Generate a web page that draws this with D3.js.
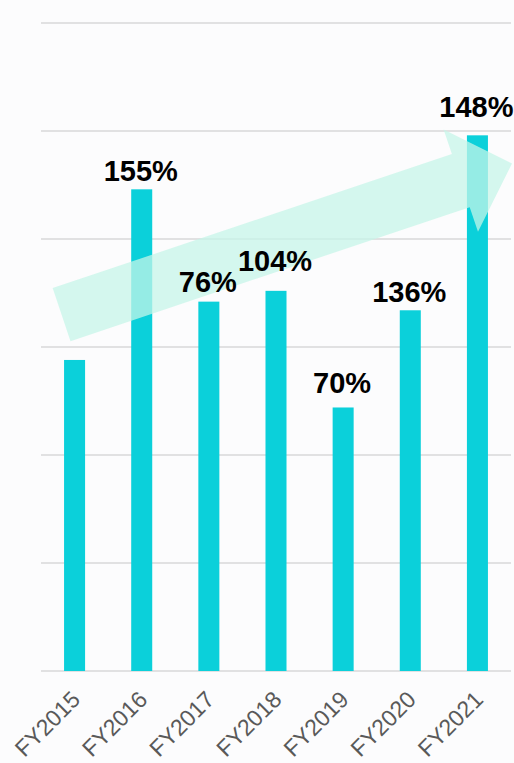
<!DOCTYPE html>
<html>
<head>
<meta charset="utf-8">
<script src="https://cdn.jsdelivr.net/npm/d3@7"></script>
<style>
  html, body { margin: 0; padding: 0; background: #fcfcfd; }
  svg { display: block; }
</style>
</head>
<body>
<div id="chart"></div>
<script>
// ---- data ----
const categories = ["FY2015", "FY2016", "FY2017", "FY2018", "FY2019", "FY2020", "FY2021"];
const values = [144, 223, 171, 176, 122, 167, 248];
const growthLabels = [null, "155%", "76%", "104%", "70%", "136%", "148%"];
const yTicks = [0, 50, 100, 150, 200, 250, 300];

// ---- layout (not data) ----
const labelGap = [0, 8, 10, 20, 14, 8, 18];
const W = 514, H = 763;
const margin = { left: 41, right: 3, top: 23, bottom: 92 };

const svg = d3.select("#chart").append("svg").attr("width", W).attr("height", H);
svg.append("rect").attr("width", W).attr("height", H).attr("fill", "#fcfcfd");

const x = d3.scaleBand().domain(categories)
  .range([margin.left, W - margin.right])
  .paddingInner(0.687).paddingOuter(0.3435);
const y = d3.scaleLinear().domain([0, 300]).range([H - margin.bottom, margin.top]);

// gridlines
svg.append("g").selectAll("line").data(yTicks).join("line")
  .attr("x1", margin.left).attr("x2", W - margin.right)
  .attr("y1", d => y(d)).attr("y2", d => y(d))
  .attr("stroke", "#d9d9d9").attr("stroke-width", 1.3);

// bars
const rows = categories.map((c, i) => ({ cat: c, value: values[i], label: growthLabels[i], gap: labelGap[i] }));
svg.append("g").selectAll("rect").data(rows).join("rect")
  .attr("x", d => x(d.cat))
  .attr("width", x.bandwidth())
  .attr("y", d => y(d.value))
  .attr("height", d => y(0) - y(d.value))
  .attr("fill", "#0bd0da");

// trend arrow (annotation)
const tail = [x(categories[0]) + x.bandwidth() / 2 - 13, y(165)];
const tip = [W - margin.right + 1, y(235)];
const dx = tip[0] - tail[0], dy = tip[1] - tail[1];
const len = Math.hypot(dx, dy);
const ux = dx / len, uy = dy / len;
const px = -uy, py = ux;
const shaftHalf = 28, headHalf = 54, headLen = 54;
const base = [tip[0] - ux * headLen, tip[1] - uy * headLen];
const pt = (p, s) => [p[0] + px * s, p[1] + py * s];
const arrowPts = [
  pt(tail, -shaftHalf), pt(base, -shaftHalf), pt(base, -headHalf), tip,
  pt(base, headHalf), pt(base, shaftHalf), pt(tail, shaftHalf)
];
svg.append("path")
  .attr("d", d3.line()(arrowPts) + "Z")
  .attr("fill", "rgb(198,246,232)")
  .attr("fill-opacity", 0.74);

// value labels
svg.append("g").selectAll("text").data(rows.filter(d => d.label !== null)).join("text")
  .attr("x", d => x(d.cat) + x.bandwidth() / 2 - 1)
  .attr("y", d => y(d.value) - d.gap)
  .attr("text-anchor", "middle")
  .attr("font-family", "Liberation Sans, Arial, sans-serif")
  .attr("font-weight", "bold")
  .attr("font-size", 29)
  .attr("fill", "#000")
  .text(d => d.label);

// x axis labels
const xAxis = d3.axisBottom(x).tickSize(0).tickPadding(0);
const gx = svg.append("g").attr("transform", `translate(0,${y(0)})`).call(xAxis);
gx.select(".domain").remove();
gx.selectAll("text")
  .attr("font-family", "Liberation Sans, Arial, sans-serif")
  .attr("font-size", 23)
  .attr("fill", "#595959")
  .attr("text-anchor", "end")
  .attr("y", 0)
  .attr("dy", 0)
  .attr("transform", "translate(7,30) rotate(-45)");
</script>
</body>
</html>
